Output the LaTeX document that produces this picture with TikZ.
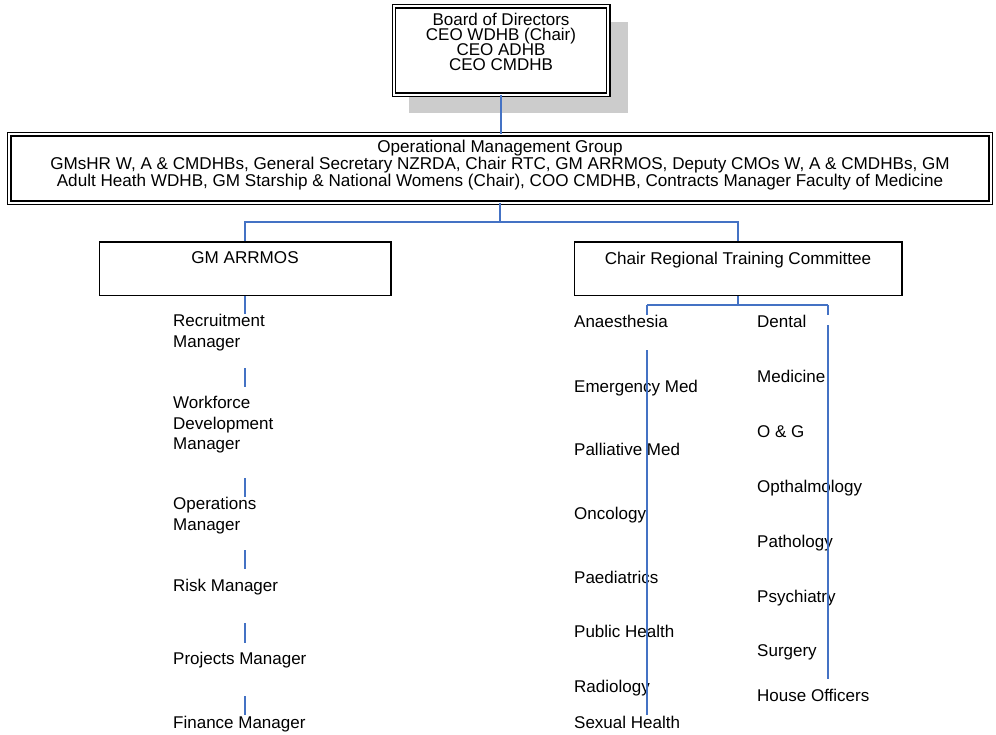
\documentclass[tikz,border=0pt]{standalone}
\usepackage{fontspec}
\setmainfont{Liberation Sans}
\usetikzlibrary{positioning}
\definecolor{connblue}{RGB}{68,114,196}
\newcommand{\orgfont}{\fontsize{17.1pt}{17pt}\selectfont}
\newcommand{\boardfont}{\fontsize{17pt}{15pt}\selectfont\lineskiplimit=-20pt\relax}
\newcommand{\colfont}{\fontsize{17pt}{20.7pt}\selectfont}
\tikzset{
  dblbox/.style={draw, double, double distance=2pt, line width=1.4pt, fill=white, inner sep=0pt},
  orgbox/.style={draw, line width=1.5pt, fill=white, inner sep=0pt, minimum height=53.5pt},
  boxtext/.style={inner sep=0pt, align=center, font=\orgfont},
  item/.style={anchor=north west, inner sep=0pt, align=left, font=\colfont},
  conn/.style={draw=connblue, line width=1.5pt},
}
\begin{document}
\begin{tikzpicture}[x=1pt, y=-1pt]
    \useasboundingbox (0,0) rectangle (996,734);
    % board with its shadow
    \fill[gray!40] (409,22) rectangle (628,113);
    \node[dblbox, minimum width=214.2pt, minimum height=88.2pt] (board) at (501,50.5) {};
    \node[boxtext, font=\boardfont, below=7.3pt of board.north] (boardtxt)
        {Board of Directors\\CEO WDHB (Chair)\\CEO ADHB\\CEO CMDHB};
    \node[dblbox, minimum width=981.2pt, minimum height=68.2pt] (omg) at (500,168.5) {};
    \node[boxtext, below=6.6pt of omg.north] (omgtxt)
        {Operational Management Group\\
         GMsHR W, A \& CMDHBs, General Secretary NZRDA, Chair RTC, GM ARRMOS, Deputy CMOs W, A \& CMDHBs, GM\\
         Adult Heath WDHB, GM Starship \& National Womens (Chair), COO CMDHB, Contracts Manager Faculty of Medicine};
    \node[orgbox, minimum width=291.5pt] (arrmos) at (245,268.5) {};
    \node[boxtext, below=10.6pt of arrmos.north] (arrmostxt) {GM ARRMOS};
    \node[orgbox, minimum width=327.5pt] (rtc) at (738,268.5) {};
    \node[boxtext, below=10.6pt of rtc.north] (rtctxt) {Chair Regional Training Committee};

    \path[conn] (board.south) edge (board.south |- omg.north);
    \draw[conn] (omg.south) -- ++(0,18.5) coordinate (fork);
    \draw[conn] (fork) -| (arrmos.north);
    \draw[conn] (fork) -| (rtc.north);

    % ARRMOS staff
    \node[item] (recruit) at (173,314) {Recruitment\\Manager};
    \node[item] (workforce) at (173,396) {Workforce\\Development\\Manager};
    \node[item] (operations) at (173,497) {Operations\\Manager};
    \node[item] (risk) at (173,579) {Risk Manager};
    \node[item] (projects) at (173,652) {Projects Manager};
    \node[item] (finance) at (173,716) {Finance Manager};
    \foreach \a/\b in {296/314, 368/387, 478/497, 550/569, 623/643, 696/715}
        \draw[conn] (arrmos.south |- 0,\a) -- (arrmos.south |- 0,\b);

    % RTC specialties
    \node[item] (anaes) at (574,315) {Anaesthesia};
    \node[item] (emerg) at (574,380) {Emergency Med};
    \node[item] (palliative) at (574,443) {Palliative Med};
    \node[item] (oncology) at (574,507) {Oncology};
    \node[item] (paed) at (574,571) {Paediatrics};
    \node[item] (pubhealth) at (574,625) {Public Health};
    \node[item] (radiology) at (574,680) {Radiology};
    \node[item] (sexhealth) at (574,716) {Sexual Health};
    \node[item] (dental) at (757,315) {Dental};
    \node[item] (medicine) at (757,370) {Medicine};
    \node[item] (obgyn) at (757,425) {O \& G};
    \node[item] (ophthal) at (757,480) {Opthalmology};
    \node[item] (pathology) at (757,535) {Pathology};
    \node[item] (psych) at (757,590) {Psychiatry};
    \node[item] (surgery) at (757,644) {Surgery};
    \node[item] (houseoff) at (757,689) {House Officers};

    \coordinate (busL) at (647,305);
    \coordinate (busR) at (828,305);
    \draw[conn] (rtc.south) -- (rtc.south |- busL);
    \draw[conn] (busL) -- (busR);
    \foreach \a/\b in {305/315, 350/715}
        \draw[conn] (busL |- 0,\a) -- (busL |- 0,\b);
    \foreach \a/\b in {305/315, 325/679}
        \draw[conn] (busR |- 0,\a) -- (busR |- 0,\b);
\end{tikzpicture}
\end{document}
